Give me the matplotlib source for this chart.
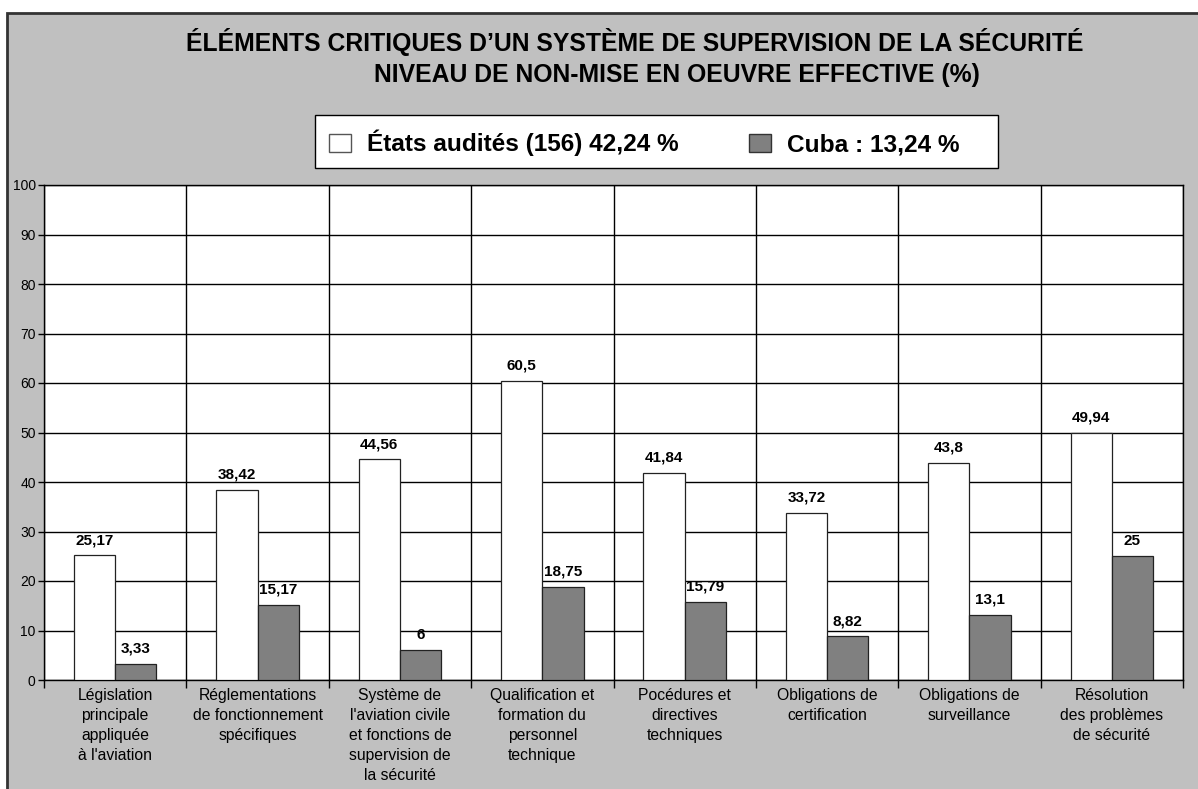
import numpy as np
import matplotlib.pyplot as plt
from matplotlib.patches import Rectangle, Patch

plt.rcParams['font.family'] = ['Liberation Sans', 'DejaVu Sans']

# Data
categories = [
    "Législation\nprincipale\nappliquée\nà l'aviation",
    "Réglementations\nde fonctionnement\nspécifiques",
    "Système de\nl'aviation civile\net fonctions de\nsupervision de\nla sécurité",
    "Qualification et\nformation du\npersonnel\ntechnique",
    "Pocédures et\ndirectives\ntechniques",
    "Obligations de\ncertification",
    "Obligations de\nsurveillance",
    "Résolution\ndes problèmes\nde sécurité",
]
etats = [25.17, 38.42, 44.56, 60.5, 41.84, 33.72, 43.8, 49.94]
cuba = [3.33, 15.17, 6, 18.75, 15.79, 8.82, 13.1, 25]
legend_labels = ["États audités (156) 42,24 %", "Cuba : 13,24 %"]
title1 = "ÉLÉMENTS CRITIQUES D\u2019UN SYSTÈME DE SUPERVISION DE LA SÉCURITÉ"
title2 = "NIVEAU DE NON-MISE EN OEUVRE EFFECTIVE (%)"

W, H = 1198, 789
fig = plt.figure(figsize=(W / 100, H / 100), dpi=100)
fig.patch.set_facecolor('white')

# grey panel behind everything
fig.patches.append(Rectangle((7 / W, -0.05), 1.1, 1 - 13 / H + 0.05,
                             transform=fig.transFigure, facecolor='#c0c0c0',
                             edgecolor='#333333', lw=2, zorder=-5))
# legend box
fig.patches.append(Rectangle((315 / W, 1 - 168 / H), (998 - 315) / W, 53 / H,
                             transform=fig.transFigure, facecolor='white',
                             edgecolor='black', lw=1, zorder=-4))

ax = fig.add_axes([44 / W, 1 - 680 / H, (1183 - 44) / W, (680 - 185) / H])
ax.set_facecolor('white')

x = np.arange(len(categories))
w = 0.29
b1 = ax.bar(x - w / 2, etats, w, color='white', edgecolor='#222222', lw=0.9, zorder=3)
b2 = ax.bar(x + w / 2, cuba, w, color='#808080', edgecolor='#222222', lw=0.9, zorder=3)

fmt = lambda v: f"{v:g}".replace('.', ',')
ax.bar_label(b1, labels=[fmt(v) for v in etats], padding=6, fontsize=11, fontweight='bold')
ax.bar_label(b2, labels=[fmt(v) for v in cuba], padding=6, fontsize=11, fontweight='bold')

ax.set_xlim(-0.5, len(categories) - 0.5)
ax.set_ylim(0, 100)
ax.set_yticks(np.arange(0, 101, 10))
ax.tick_params(axis='y', labelsize=10, length=4, width=1, pad=2)

ax.set_xticks(x)
ax.set_xticklabels(categories, fontsize=11.3, linespacing=1.4, va='top')
ax.tick_params(axis='x', which='major', length=0, pad=6)
ax.set_xticks(np.arange(-0.5, len(categories)), minor=True)
ax.tick_params(axis='x', which='minor', length=6, width=1)

ax.grid(axis='y', color='black', lw=1, zorder=1)
ax.grid(axis='x', which='minor', color='black', lw=1, zorder=1)
ax.set_axisbelow(True)
for s in ax.spines.values():
    s.set_color('black')
    s.set_linewidth(1)

fig.text(635 / W, 1 - 42 / H, title1, ha='center', va='center', fontsize=17.8,
         fontweight='bold')
fig.text(677 / W, 1 - 75 / H, title2, ha='center', va='center', fontsize=17.8,
         fontweight='bold')

handles = [Patch(facecolor='white', edgecolor='#555555', lw=1),
           Patch(facecolor='#808080', edgecolor='#333333', lw=1)]
leg = fig.legend(handles, legend_labels, ncol=2, loc='center left',
                 bbox_to_anchor=(329 / W, 1 - 143 / H),
                 prop={'size': 17.6, 'weight': 'bold'}, frameon=False,
                 handlelength=0.9, handleheight=0.74, handletextpad=0.65,
                 columnspacing=2.9, borderpad=0, borderaxespad=0)

fig.savefig('out.png', dpi=100)
